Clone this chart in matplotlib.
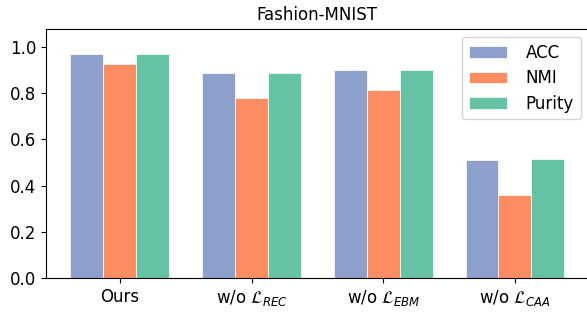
import numpy as np
import matplotlib.pyplot as plt

# values
methods = ["Ours", r"w/o $\mathcal{L}_{REC}$", r"w/o $\mathcal{L}_{EBM}$", r"w/o $\mathcal{L}_{CAA}$"]
acc = [0.967, 0.887, 0.900, 0.512]
nmi = [0.925, 0.779, 0.812, 0.358]
purity = [0.967, 0.887, 0.900, 0.516]

colors = ["#8da0cb", "#fc8d62", "#66c2a5"]
x = np.arange(len(methods))
w = 0.25

fig = plt.figure(figsize=(5.87, 3.14), dpi=100)
ax = fig.add_axes([0.0779, 0.1137, 0.9255, 0.7949])
ax.bar(x - w, acc, w, label="ACC", color=colors[0], edgecolor="white", linewidth=0.5)
ax.bar(x, nmi, w, label="NMI", color=colors[1], edgecolor="white", linewidth=0.5)
ax.bar(x + w, purity, w, label="Purity", color=colors[2], edgecolor="white", linewidth=0.5)

ax.set_xticks(x)
ax.set_xticklabels(methods, fontsize=12)
ax.tick_params(axis="y", labelsize=12)
ax.set_ylim(0, 1.078)
ax.set_title("Fashion-MNIST", fontsize=12)
ax.legend(loc="upper right", fontsize=12, handlelength=2.3, handletextpad=1.1,
          labelspacing=0.45)

plt.savefig("out.png", dpi=100)
